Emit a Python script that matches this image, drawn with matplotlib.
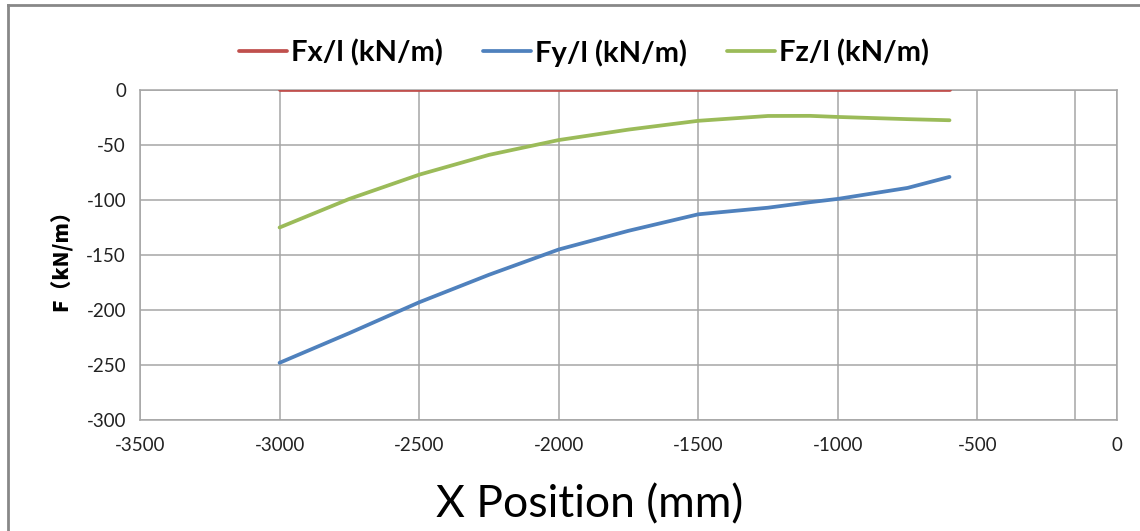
import matplotlib.pyplot as plt
from matplotlib.lines import Line2D

# ---------------------------------------------------------------------------
# Data
# ---------------------------------------------------------------------------
X_POS = [-3000, -2750, -2500, -2250, -2000, -1750, -1500, -1250, -1100, -1000, -750, -600]
FX = [0, 0, 0, 0, 0, 0, 0, 0, 0, 0, 0, 0]
FY = [-248, -221, -193, -168, -145, -128, -113, -107, -102, -99, -89, -79]
FZ = [-125, -99, -77, -59, -45.5, -36, -28, -23.6, -23.5, -24.5, -26.5, -27.5]

X_TICKS = [-3500, -3000, -2500, -2000, -1500, -1000, -500, 0]
Y_TICKS = [0, -50, -100, -150, -200, -250, -300]
EXTRA_VGRID = [-150]

SERIES = [
    ("Fx/l (kN/m)", FX, "#C0504D"),
    ("Fy/l (kN/m)", FY, "#4F81BD"),
    ("Fz/l (kN/m)", FZ, "#9BBB59"),
]

GRID = "#A6A6A6"

plt.rcParams["font.family"] = ["Lato", "DejaVu Sans"]
plt.rcParams["axes.unicode_minus"] = False

fig = plt.figure(figsize=(11.4, 5.31), dpi=100)
fig.patch.set_facecolor("white")
ax = fig.add_axes([140 / 1140, 1 - 420 / 531, 977 / 1140, 330 / 531])

for name, vals, color in SERIES:
    ax.plot(X_POS, vals, color=color, linewidth=2.7, label=name,
            solid_capstyle="round", zorder=3)

ax.set_xlim(-3500, 0)
ax.set_ylim(-300, 0)
ax.set_xticks(X_TICKS)
ax.set_yticks(Y_TICKS)
ax.tick_params(length=0, labelsize=13.5, colors="#222222", pad=10)
ax.tick_params(axis="x", pad=12)

for xv in X_TICKS + EXTRA_VGRID:
    ax.axvline(xv, color=GRID, linewidth=1.1, zorder=1)
for yv in Y_TICKS:
    ax.axhline(yv, color=GRID, linewidth=1.1, zorder=1)
for side in ax.spines.values():
    side.set_color(GRID)
    side.set_linewidth(1.1)

ax.set_xlabel("X Position (mm)", fontsize=32, labelpad=4)
ax.xaxis.set_label_coords(0.46, -0.195)
ax.set_ylabel("F（kN/m）", fontsize=15, fontweight="heavy",
              family=["Noto Sans CJK JP", "DejaVu Sans"], labelpad=10)

ax.legend(loc="center", bbox_to_anchor=(0.4545, 1.113), ncol=3,
          frameon=False, prop={"size": 21, "weight": "bold"},
          handlelength=1.65, columnspacing=1.37, handletextpad=0.14,
          borderaxespad=0, borderpad=0)

# outer chart-area border (top and left visible in reference)
fig.add_artist(Line2D([8 / 1140, 8 / 1140], [0, 1 - 5 / 531], color="#888888",
                      linewidth=2, transform=fig.transFigure))
fig.add_artist(Line2D([8 / 1140, 1], [1 - 5 / 531, 1 - 5 / 531], color="#888888",
                      linewidth=2, transform=fig.transFigure))

fig.savefig("out.png", dpi=100, facecolor="white")
